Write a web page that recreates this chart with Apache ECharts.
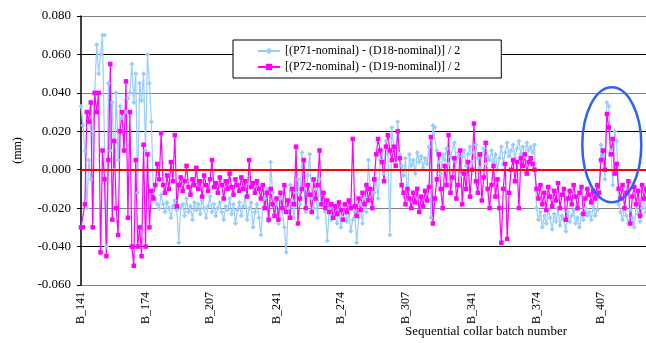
<!DOCTYPE html>
<html>
<head>
<meta charset="utf-8">
<script src="https://cdn.jsdelivr.net/npm/echarts@6/dist/echarts.min.js"></script>
<style>
  html, body { margin: 0; padding: 0; background: #fff; }
  #chart { width: 646px; height: 343px; }
</style>
</head>
<body>
<div id="chart"></div>
<script>
// batches B_141 .. B_430, one point per batch
var firstBatch = 141;
var lastBatch = 430;
var batches = [];
for (var b = firstBatch; b <= lastBatch; b++) batches.push('B_' + b);

// labels shown under the axis
var tickLabels = ['B_141', 'B_174', 'B_207', 'B_241', 'B_274', 'B_307', 'B_341', 'B_374', 'B_407'];
var yTicks = [-0.060, -0.040, -0.020, 0.000, 0.020, 0.040, 0.060, 0.080];

var seriesNames = ['[(P71-nominal) - (D18-nominal)] / 2', '[(P72-nominal) - (D19-nominal)] / 2'];

// [(P71-nominal) - (D18-nominal)] / 2  (mm)
var p71 = [
  0.033, 0.023, 0.010, -0.020, 0.005, -0.005, 0.020, 0.040, 0.065, 0.050,
  0.060, 0.070, 0.070, -0.040, 0.045, 0.010, 0.035, 0.000, 0.040, 0.005,
  0.033, 0.027, 0.010, 0.030, 0.037, 0.040, 0.055, 0.035, 0.050, -0.012,
  0.045, 0.036, 0.050, 0.010, 0.060, 0.045, 0.025, -0.012, -0.015, -0.018,
  -0.020, -0.013, -0.018, -0.022, -0.017, -0.020, -0.025, -0.019, -0.016, -0.021,
  -0.038, -0.020, -0.018, -0.024, -0.015, -0.022, -0.019, -0.026, -0.017, -0.021,
  -0.018, -0.023, -0.016, -0.020, -0.025, -0.019, -0.014, -0.022, -0.018, -0.024,
  -0.020, -0.017, -0.022, -0.026, -0.019, -0.021, -0.015, -0.023, -0.018, -0.028,
  -0.021, -0.017, -0.024, -0.019, -0.014, -0.026, -0.020, -0.017, -0.030, -0.022,
  -0.018, -0.025, -0.034, -0.020, -0.015, -0.010, -0.027, 0.004, -0.012, -0.024,
  -0.018, -0.028, -0.015, -0.022, -0.030, -0.043, -0.020, -0.008, -0.016, -0.025,
  -0.012, -0.005, -0.018, 0.009, -0.010, -0.022, -0.003, 0.008, -0.015, -0.020,
  -0.010, -0.025, -0.005, -0.018, -0.012, -0.022, -0.037, -0.020, -0.026, -0.019,
  -0.024, -0.028, -0.021, -0.030, -0.025, -0.019, -0.027, -0.023, -0.032, -0.026,
  -0.022, -0.038, -0.025, -0.018, -0.028, -0.015, -0.022, 0.005, -0.010, -0.020,
  -0.012, -0.005, -0.015, 0.005, 0.010, -0.002, 0.015, 0.008, -0.034, 0.022,
  0.012, 0.003, 0.025, 0.008, 0.002, -0.003, 0.006, -0.016, 0.008, 0.002,
  0.005, -0.002, 0.009, 0.004, 0.007, 0.001, 0.006, 0.003, 0.012, -0.025,
  0.023, 0.022, 0.010, 0.004, -0.002, 0.008, 0.005, 0.011, 0.003, 0.007,
  0.006, 0.014, 0.004, 0.009, -0.003, 0.007, 0.010, 0.002, 0.008, 0.012,
  0.004, 0.009, 0.013, 0.006, 0.001, 0.008, 0.011, 0.003, 0.007, 0.005,
  0.010, 0.004, 0.008, 0.000, 0.006, 0.012, 0.003, 0.009, 0.014, 0.007,
  0.010, 0.013, 0.006, 0.011, 0.015, 0.008, 0.012, 0.007, 0.014, 0.010,
  0.012, 0.009, 0.013, -0.020, -0.026, -0.022, -0.030, -0.024, -0.028, -0.021,
  -0.025, -0.031, -0.023, -0.027, -0.020, -0.029, -0.024, -0.026, -0.032, -0.022,
  -0.027, -0.024, -0.021, -0.028, -0.025, -0.030, -0.023, -0.026, -0.020, -0.024,
  -0.022, -0.026, -0.019, -0.024, -0.021, -0.011, 0.013, 0.007, -0.005, 0.035,
  0.033, 0.010, -0.008, 0.020, 0.015, -0.018, -0.022, -0.026, -0.020, -0.024,
  -0.028, -0.021, -0.025, -0.030, -0.018, -0.023, -0.027, -0.020, -0.016, -0.022
];

// [(P72-nominal) - (D19-nominal)] / 2  (mm)
var p72 = [
  -0.030, -0.030, -0.018, 0.030, 0.025, 0.035, -0.030, 0.040, 0.030, 0.040,
  -0.043, 0.010, -0.005, -0.045, 0.005, 0.055, -0.026, 0.015, -0.020, -0.034,
  0.020, 0.030, 0.010, 0.046, -0.025, 0.030, -0.040, -0.050, 0.005, -0.040,
  -0.030, -0.045, 0.013, -0.040, 0.008, -0.030, -0.011, -0.015, -0.008, 0.003,
  -0.005, 0.019, -0.008, -0.012, -0.003, -0.010, 0.004, -0.006, 0.018, -0.019,
  -0.008, -0.004, -0.011, -0.006, 0.002, -0.009, -0.013, -0.005, -0.008, 0.001,
  -0.010, -0.006, -0.014, -0.003, -0.008, -0.011, -0.005, 0.005, -0.009, -0.007,
  -0.012, -0.004, -0.008, -0.015, -0.006, -0.010, -0.002, -0.009, -0.013, -0.005,
  -0.008, -0.011, -0.004, -0.010, -0.006, -0.014, 0.005, -0.009, -0.007, -0.012,
  -0.006, -0.010, -0.015, -0.008, -0.020, -0.012, -0.026, -0.010, -0.018, -0.024,
  -0.015, -0.026, -0.012, -0.020, -0.008, -0.022, -0.016, -0.025, -0.010, -0.018,
  0.012, -0.028, -0.015, -0.010, 0.005, -0.020, -0.008, -0.013, -0.022, -0.005,
  -0.015, -0.008, 0.010, -0.018, -0.012, -0.020, -0.016, -0.022, -0.018, -0.025,
  -0.019, -0.023, -0.017, -0.021, -0.026, -0.018, -0.022, -0.016, -0.020, 0.016,
  -0.019, -0.024, -0.015, -0.021, -0.012, -0.018, -0.008, -0.016, -0.010, -0.020,
  -0.005, 0.008, 0.016, 0.010, 0.004, -0.006, 0.012, 0.018, 0.010, 0.005,
  0.012, 0.002, 0.020, 0.006, -0.008, -0.012, -0.018, -0.010, -0.015, -0.020,
  -0.012, -0.017, -0.010, -0.022, -0.014, -0.019, -0.011, -0.016, -0.009, 0.017,
  -0.028, -0.015, -0.005, 0.008, -0.010, -0.020, 0.002, -0.008, 0.018, -0.012,
  -0.004, 0.006, -0.015, -0.008, 0.010, -0.018, -0.002, -0.010, 0.004, -0.014,
  0.000, 0.024, -0.006, -0.012, 0.008, -0.016, -0.004, 0.014, -0.010, -0.020,
  -0.008, 0.002, -0.014, -0.005, -0.020, -0.038, -0.010, 0.003, -0.036, -0.012,
  0.000, 0.005, -0.006, 0.004, -0.020, 0.006, 0.002, 0.008, -0.002, 0.004,
  0.006, 0.003, 0.000, -0.010, -0.015, -0.008, -0.018, -0.012, -0.021, -0.009,
  -0.014, -0.019, -0.011, -0.016, -0.007, -0.020, -0.013, -0.010, -0.026, -0.015,
  -0.011, -0.018, -0.008, -0.014, -0.020, -0.012, -0.009, -0.023, -0.015, -0.010,
  -0.013, -0.017, -0.011, -0.015, -0.008, -0.012, 0.005, 0.010, 0.000, 0.029,
  0.022, 0.008, 0.016, -0.002, 0.003, -0.010, -0.015, -0.008, -0.020, -0.012,
  -0.006, -0.028, -0.014, -0.009, -0.018, -0.011, -0.024, -0.008, -0.015, -0.010
];

var font = 'Liberation Serif';
var chart = echarts.init(document.getElementById('chart'));

var option = {
  animation: false,
  backgroundColor: '#fff',
  textStyle: { fontFamily: font, color: '#000' },
  grid: { left: 81, right: 0, top: 16, bottom: 58 },
  legend: {
    orient: 'vertical',
    left: 233,
    top: 40,
    data: seriesNames,
    backgroundColor: '#fff',
    borderColor: '#000',
    borderWidth: 1,
    padding: [5, 41, 5, 24],
    itemGap: 4,
    itemWidth: 22,
    itemHeight: 8,
    textStyle: { fontFamily: font, fontSize: 12, color: '#000' }
  },
  xAxis: {
    type: 'category',
    data: batches,
    boundaryGap: false,
    axisLine: { lineStyle: { color: '#808080', width: 1.5 } },
    axisTick: { show: false },
    axisLabel: {
      rotate: 90,
      margin: 7,
      fontFamily: font,
      fontSize: 12,
      color: '#000',
      interval: function (index, value) { return tickLabels.indexOf(value) >= 0; }
    },
    splitLine: { show: false }
  },
  yAxis: {
    type: 'value',
    min: yTicks[0],
    max: yTicks[yTicks.length - 1],
    interval: 0.02,
    name: '(mm)',
    nameLocation: 'middle',
    nameGap: 57,
    nameRotate: 90,
    nameTextStyle: { fontFamily: font, fontSize: 12, color: '#000' },
    axisLine: { show: true, lineStyle: { color: '#000', width: 1.5 } },
    axisTick: { show: true, inside: false, length: 4, lineStyle: { color: '#000' } },
    axisLabel: {
      margin: 10,
      fontFamily: font,
      fontSize: 13,
      color: '#000',
      formatter: function (v) { return v.toFixed(3); }
    },
    splitLine: {
      lineStyle: {
        width: 1.2,
        color: ['#808080', '#000', '#808080', '#000', '#000', '#808080', '#000', '#808080']
      }
    }
  },
  series: [
    {
      name: seriesNames[0],
      type: 'line',
      data: p71,
      symbol: 'diamond',
      symbolSize: 5,
      showAllSymbol: true,
      lineStyle: { color: '#99ccff', width: 1.2 },
      itemStyle: { color: '#99ccff' },
      markLine: {
        silent: true,
        symbol: 'none',
        label: { show: false },
        lineStyle: { color: '#ff0000', width: 2, type: 'solid' },
        data: [{ yAxis: 0 }]
      }
    },
    {
      name: seriesNames[1],
      type: 'line',
      data: p72,
      symbol: 'rect',
      symbolSize: 4.5,
      showAllSymbol: true,
      lineStyle: { color: '#ff00ff', width: 1.2 },
      itemStyle: { color: '#ff00ff' }
    }
  ]
};
chart.setOption(option);

// highlight ellipse round the spike near B_412, and the x axis title
var c = chart.convertToPixel({ xAxisIndex: 0, yAxisIndex: 0 }, [271, 0.013]);
chart.setOption({
  graphic: [
    {
      type: 'ellipse',
      shape: { cx: c[0] + 1, cy: c[1], rx: 29.5, ry: 57.5 },
      style: { fill: 'none', stroke: '#2f62f0', lineWidth: 2.5 },
      z: 100
    },
    {
      type: 'text',
      left: 405,
      top: 325,
      style: { text: 'Sequential collar batch number', font: '13px "Liberation Serif"', fill: '#000' }
    }
  ]
});
</script>
</body>
</html>
